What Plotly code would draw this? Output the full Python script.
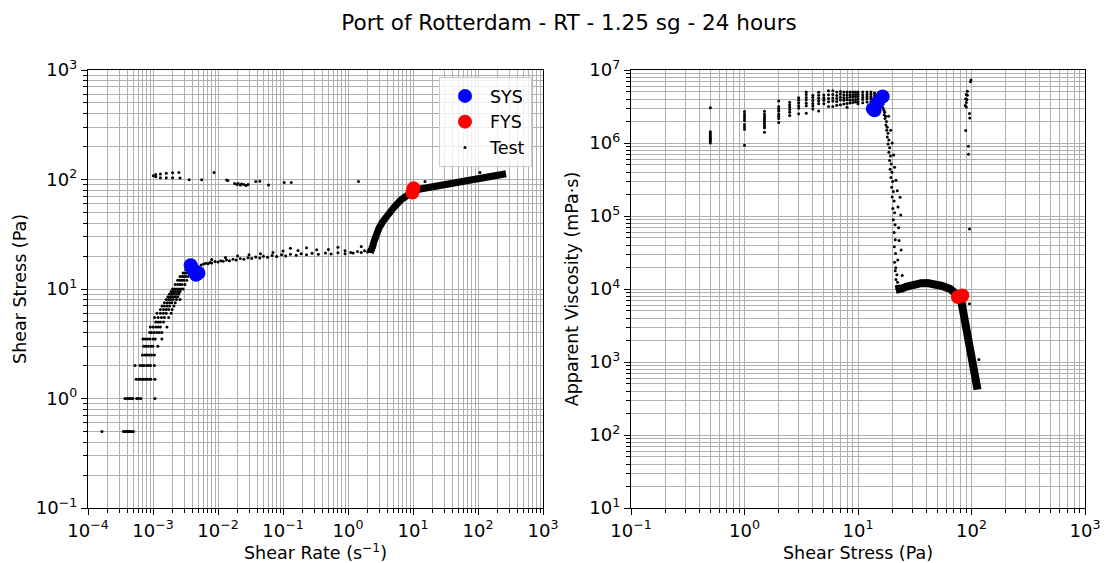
import plotly.graph_objects as go
import numpy as np

# ---- data (shear rate in 1/s, shear stress in Pa) ----
# low-rate "staircase": stress is logged in 0.5 Pa steps
ramp_levels = [0.5, 1.0, 1.5, 2.0, 2.5, 3.0, 3.5, 4.0, 4.5, 5.0, 5.5, 6.0, 6.5,
               7.0, 7.5, 8.0, 8.5, 9.0, 9.5, 10, 11, 12, 13, 14, 15, 16]
ramp_rates = [
    [1.64e-4, 3.5e-4, 3.7e-4, 3.9e-4, 4.1e-4, 4.3e-4, 4.5e-4, 4.7e-4, 5.0e-4],
    [3.7e-4, 4.0e-4, 4.3e-4, 4.6e-4, 4.9e-4, 5.6e-4, 6.0e-4, 6.5e-4, 1.07e-3],
    [5.5e-4, 6.0e-4, 6.4e-4, 6.8e-4, 7.2e-4, 7.7e-4, 8.2e-4, 8.7e-4, 9.3e-4, 1.07e-3],
    [5.3e-4, 6.3e-4, 6.8e-4, 7.3e-4, 8.0e-4, 8.6e-4, 9.2e-4, 1.05e-3],
    [6.9e-4, 7.5e-4, 8.0e-4, 8.7e-4, 9.5e-4, 1.05e-3],
    [7.2e-4, 7.8e-4, 8.5e-4, 9.3e-4, 1.0e-3, 1.19e-3],
    [7.0e-4, 7.6e-4, 8.3e-4, 9.0e-4, 1.0e-3, 1.08e-3, 1.37e-3],
    [8.9e-4, 9.5e-4, 1.05e-3, 1.15e-3, 1.25e-3, 1.37e-3],
    [9.1e-4, 1.0e-3, 1.1e-3, 1.2e-3, 1.3e-3, 1.64e-3],
    [1.1e-3, 1.2e-3, 1.3e-3, 1.45e-3],
    [1.06e-3, 1.2e-3, 1.35e-3, 1.5e-3, 1.74e-3],
    [1.15e-3, 1.3e-3, 1.45e-3, 1.6e-3, 1.9e-3],
    [1.3e-3, 1.45e-3, 1.6e-3, 1.75e-3, 1.97e-3],
    [1.38e-3, 1.5e-3, 1.65e-3, 1.8e-3, 2.1e-3],
    [1.5e-3, 1.65e-3, 1.8e-3, 1.95e-3, 2.2e-3],
    [1.6e-3, 1.75e-3, 1.9e-3, 2.05e-3, 2.3e-3, 2.6e-3],
    [1.7e-3, 1.85e-3, 2.0e-3, 2.2e-3, 2.4e-3],
    [1.8e-3, 1.95e-3, 2.1e-3, 2.3e-3, 2.5e-3],
    [1.9e-3, 2.05e-3, 2.2e-3, 2.4e-3, 2.6e-3],
    [2.0e-3, 2.15e-3, 2.3e-3, 2.5e-3, 2.7e-3, 2.9e-3],
    [2.2e-3, 2.4e-3, 2.6e-3, 2.8e-3, 3.1e-3],
    [2.4e-3, 2.6e-3, 2.8e-3, 3.0e-3, 3.3e-3],
    [2.6e-3, 2.8e-3, 3.0e-3, 3.2e-3, 3.5e-3],
    [2.9e-3, 3.1e-3, 3.3e-3, 3.6e-3, 3.9e-3],
    [3.2e-3, 3.5e-3, 3.8e-3, 4.2e-3],
    [3.6e-3, 4.0e-3, 4.5e-3, 5.0e-3],
]

plateau_rate = [5.5e-3, 6e-3, 6.5e-3, 7e-3, 7.5e-3, 8e-3, 9e-3, 1.0e-2, 1.1e-2, 1.2e-2,
                1.35e-2, 1.5e-2, 1.7e-2, 1.9e-2, 2.2e-2, 2.5e-2, 2.9e-2, 3.3e-2, 3.8e-2,
                4.4e-2, 5e-2, 5.8e-2, 6.8e-2, 8e-2, 9.5e-2, 0.11, 0.13, 0.16, 0.19, 0.23,
                0.28, 0.35, 0.45, 0.55, 0.7, 0.9, 1.1,
                8e-3, 1.3e-2, 2e-2, 3e-2, 4.5e-2, 7e-2, 0.1, 0.13, 0.17, 0.23, 0.33, 0.5,
                0.7, 0.9, 1.6,
                1.2, 1.4, 1.6, 1.8, 2.0, 2.1, 2.2, 2.3, 2.35, 2.4]
plateau_stress = [16.6, 16.9, 17.2, 17.0, 17.5, 17.3, 17.8, 17.6, 18.1, 17.9,
                  18.4, 18.1, 18.7, 18.4, 19.0, 18.7, 19.3, 19.0, 19.6,
                  19.2, 19.9, 19.5, 20.2, 19.8, 20.5, 20.0, 20.8, 20.3, 21.0, 20.5,
                  21.2, 20.8, 21.3, 20.9, 21.4, 21.0, 21.5,
                  18.6, 19.4, 20.0, 20.6, 21.0, 21.6, 22.2, 23.5, 22.5, 23.8, 22.8, 23.0,
                  24.0, 22.4, 24.5,
                  21.3, 22.0, 21.6, 22.3, 21.8, 23.0, 22.0, 24.0, 25.0, 26.0]

# ramp-down / return branch
return_rate = [1.01e-3, 1.1e-3, 1.3e-3, 1.6e-3, 2.0e-3, 2.5e-3, 1.1e-3, 1.3e-3, 1.6e-3,
               2.0e-3, 2.6e-3, 3.6e-3, 5.6e-3, 8.7e-3, 0.0136, 0.0142, 0.018, 0.0195,
               0.0204, 0.022, 0.023, 0.025, 0.027, 0.029, 0.038, 0.044, 0.06, 0.104,
               0.134, 1.45, 15.3, 107]
return_stress = [108, 111, 112, 114, 115, 116, 106, 104, 104, 103.5, 103, 99.4, 99.4, 116,
                 99, 98, 92, 90, 92, 89, 91, 90, 88, 90, 96, 96.5, 89, 94,
                 94, 96, 96, 116]

# dense part of the measurement (thousands of overlapping points)
band_rate = [2.2, 2.3, 2.4, 2.5, 2.7, 3.0, 3.4, 4.0, 5.0, 6.5, 8.0, 10, 13, 20, 35, 60,
             100, 160, 270]
band_stress = [21.5, 22.5, 24.5, 27, 31, 36, 41, 47, 55, 65, 72, 78, 82, 86, 91, 95,
               100, 106, 113]

sys_rate = [3.8e-3, 4.1e-3, 4.6e-3, 5.0e-3]
sys_stress = [16.5, 15.0, 13.5, 14.0]
fys_rate = [9.8, 10.2]
fys_stress = [76, 83]

# ---- assemble ----
test_rate, test_stress = [], []
for lev, rates in zip(ramp_levels, ramp_rates):
    test_rate += rates
    test_stress += [lev] * len(rates)
test_rate += plateau_rate + return_rate
test_stress += plateau_stress + return_stress
test_rate = np.array(test_rate)
test_stress = np.array(test_stress)


def visc(stress, rate):
    # apparent viscosity in mPa.s
    return np.array(stress) / np.array(rate) * 1000.0


FONT = "DejaVu Sans"
BLUE, RED = "#0000ff", "#ff0000"

fig = go.Figure()

# left panel: stress vs rate
fig.add_trace(go.Scatter(x=band_rate, y=band_stress, mode="lines",
                         line=dict(color="black", width=7), showlegend=False,
                         xaxis="x", yaxis="y"))
fig.add_trace(go.Scatter(x=test_rate, y=test_stress, mode="markers", name="Test",
                         marker=dict(color="black", size=3), legendrank=3,
                         xaxis="x", yaxis="y"))
fig.add_trace(go.Scatter(x=sys_rate, y=sys_stress, mode="markers", name="SYS",
                         marker=dict(color=BLUE, size=14), legendrank=1,
                         xaxis="x", yaxis="y"))
fig.add_trace(go.Scatter(x=fys_rate, y=fys_stress, mode="markers", name="FYS",
                         marker=dict(color=RED, size=14), legendrank=2,
                         xaxis="x", yaxis="y"))

# right panel: viscosity vs stress
fig.add_trace(go.Scatter(x=band_stress, y=visc(band_stress, band_rate), mode="lines",
                         line=dict(color="black", width=8), showlegend=False,
                         xaxis="x2", yaxis="y2"))
fig.add_trace(go.Scatter(x=test_stress, y=visc(test_stress, test_rate), mode="markers",
                         marker=dict(color="black", size=3), showlegend=False,
                         xaxis="x2", yaxis="y2"))
fig.add_trace(go.Scatter(x=sys_stress, y=visc(sys_stress, sys_rate), mode="markers",
                         marker=dict(color=BLUE, size=14), showlegend=False,
                         xaxis="x2", yaxis="y2"))
fig.add_trace(go.Scatter(x=fys_stress, y=visc(fys_stress, fys_rate), mode="markers",
                         marker=dict(color=RED, size=14), showlegend=False,
                         xaxis="x2", yaxis="y2"))


def minor_vals(e0, e1):
    return [k * 10.0 ** e for e in range(e0, e1) for k in range(2, 10)]


def sup(e):
    return "10<sup>%s</sup>" % str(e).replace("-", "\u2212")


def log_axis(e0, e1, title, domain, anchor, standoff):
    return dict(
        type="log", range=[e0, e1], domain=domain, anchor=anchor, automargin=False,
        tickmode="array", tickvals=[10.0 ** e for e in range(e0, e1 + 1)],
        ticktext=[sup(e) for e in range(e0, e1 + 1)],
        showline=True, linecolor="black", linewidth=1.3, mirror=True,
        ticks="outside", ticklen=6, tickwidth=1.2, tickcolor="black",
        showgrid=True, gridcolor="#b0b0b0", gridwidth=1, zeroline=False,
        tickfont=dict(family=FONT, size=18, color="black"),
        minor=dict(tickmode="array", tickvals=minor_vals(e0, e1), ticks="outside",
                   ticklen=3.5, tickwidth=1, tickcolor="black", showgrid=True,
                   gridcolor="#b0b0b0", gridwidth=1),
        title=dict(text=title, font=dict(family=FONT, size=17.5, color="black"),
                   standoff=standoff),
    )


W, H = 1109, 563
ydom = [(H - 508) / H, (H - 70) / H]

fig.update_layout(
    width=W, height=H,
    margin=dict(l=0, r=0, t=0, b=0),
    paper_bgcolor="white", plot_bgcolor="white",
    font=dict(family=FONT, color="black"),
    title=dict(text="Port of Rotterdam - RT - 1.25 sg - 24 hours",
               x=569 / W, xanchor="center", y=1 - 22 / H, yanchor="middle",
               font=dict(family=FONT, size=21.5, color="black")),
    xaxis=log_axis(-4, 3, "Shear Rate (s<sup>\u22121</sup>)", [88 / W, 543 / W], "y", 6),
    yaxis=log_axis(-1, 3, "Shear Stress (Pa)", ydom, "x", 4),
    xaxis2=log_axis(-1, 3, "Shear Stress (Pa)", [631 / W, 1085 / W], "y2", 6),
    yaxis2=log_axis(1, 7, "Apparent Viscosity (mPa\u00b7s)", ydom, "x2", 6),
    legend=dict(x=532 / W, xanchor="right", y=1 - 77 / H, yanchor="top",
                bgcolor="rgba(255,255,255,0.8)", bordercolor="#cccccc", borderwidth=1,
                font=dict(family=FONT, size=17.5, color="black"), itemwidth=40,
                tracegroupgap=0),
    showlegend=True,
)

# the page's default body margin would shift the fixed-size figure by 8px
fig.write_html("out.html", config={"displayModeBar": False},
               post_script="document.body.style.margin='0';")
